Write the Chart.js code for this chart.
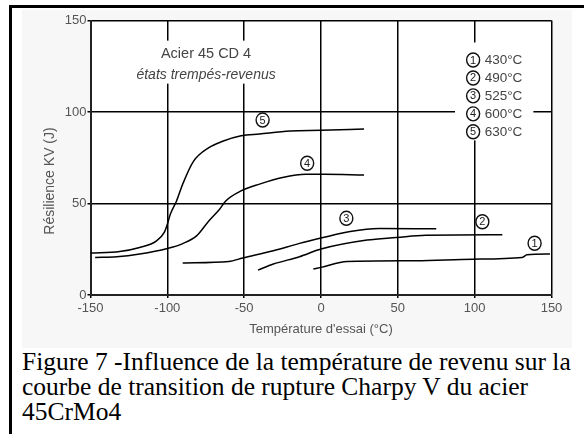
<!DOCTYPE html>
<html lang="fr">
<head>
    <meta charset="UTF-8">
    <title>Acier 45 CD 4 - Charpy V</title>
    <style>
        body {
            margin: 0;
            width: 584px;
            height: 434px;
            background-color: #fff;
            position: relative;
            overflow: hidden;
        }
        .frame {
            position: absolute;
            left: 9px;
            top: 5px;
            width: 580px;
            height: 440px;
            border-top: 3px solid #000;
            border-left: 3px solid #000;
        }
        .panel {
            position: absolute;
            left: 22px;
            top: 10px;
            width: 550px;
            height: 338px;
            background-color: #f7f7f7;
        }
        .chart-box {
            position: absolute;
            left: 0;
            top: 0;
            width: 584px;
            height: 345px;
        }
        .caption {
            position: absolute;
            left: 22px;
            top: 349px;
            font-family: "Liberation Serif", "Times New Roman", serif;
            font-size: 25.5px;
            line-height: 25px;
            color: #000;
            white-space: nowrap;
        }
    </style>
    <script src="https://cdn.jsdelivr.net/npm/chart.js"></script>
</head>
<body>
    <div class="frame"></div>
    <div class="panel"></div>
    <div class="chart-box">
        <canvas id="charpyChart" width="584" height="345"></canvas>
    </div>
    <div class="caption">Figure 7 -Influence de la température de revenu sur la<br>courbe de transition de rupture Charpy V du acier<br>45CrMo4</div>

    <script>
        // tick values
        const xTicks = [-150, -100, -50, 0, 50, 100, 150];
        const yTicks = [0, 50, 100, 150];

        // tempering temperatures (legend)
        const labels = ['430°C', '490°C', '525°C', '600°C', '630°C'];

        // curves: test temperature (°C) / KV (J)
        const c1x = [-5, 0, 17, 62, 99, 131, 134, 149];
        const c1y = [14.2, 15.1, 18.3, 18.7, 19.6, 20.5, 22, 22.4];
        const c2x = [-41, -31, -14, 0, 30, 49, 68, 118];
        const c2y = [13.6, 16.9, 20.9, 25.1, 30, 31.4, 32.7, 32.9];
        const c3x = [-90, -60, -51, -31, -14, 0, 19, 38, 75];
        const c3y = [17.5, 18.3, 20.2, 24.2, 28.2, 31.1, 34.7, 36.3, 36.2];
        const c4x = [-147, -133, -118, -100, -90, -81, -73, -66, -62, -52, -40, -25, -10, 2, 28];
        const c4y = [20.5, 20.9, 22.4, 25.4, 28.1, 32.3, 40.5, 46.9, 51.4, 56.9, 60.6, 64.2, 66, 66, 65.6];
        const c5x = [-150, -131, -118, -107, -102, -100, -98, -94, -90, -83, -73, -64, -52, -40, -20, 0, 28];
        const c5y = [22.9, 23.8, 26, 29.6, 34.2, 38.7, 44.2, 51.4, 60.6, 73, 80.5, 84, 87, 88, 89.6, 90, 90.7];

        // where the circled curve numbers sit (data units)
        const tagX = [139, 105, 16.5, -9, -38];
        const tagY = [28.3, 40, 41.9, 72, 95.6];

        const curvesX = [c1x, c2x, c3x, c4x, c5x];
        const curvesY = [c1y, c2y, c3y, c4y, c5y];

        function toPoints(xs, ys) {
            return xs.map((x, i) => ({ x: x, y: ys[i] }));
        }

        function circledNumber(ctx, cx, cy, n) {
            ctx.save();
            ctx.fillStyle = '#fff';
            ctx.strokeStyle = '#111';
            ctx.lineWidth = 1.4;
            ctx.beginPath();
            ctx.ellipse(cx, cy, 6.5, 7, 0, 0, Math.PI * 2);
            ctx.fill();
            ctx.stroke();
            ctx.fillStyle = '#222';
            ctx.font = '11px "Liberation Sans", Arial, sans-serif';
            ctx.textAlign = 'center';
            ctx.textBaseline = 'middle';
            ctx.fillText(String(n), cx, cy + 0.5);
            ctx.restore();
        }

        const decorPlugin = {
            id: 'decor',
            beforeDraw(chart) {
                const { ctx, chartArea } = chart;
                ctx.save();
                ctx.fillStyle = '#fff';
                ctx.fillRect(chartArea.left, chartArea.top,
                    chartArea.right - chartArea.left, chartArea.bottom - chartArea.top);
                ctx.restore();
            },
            beforeDatasetsDraw(chart) {
                const { ctx } = chart;
                const xs = chart.scales.x;
                const ys = chart.scales.y;
                ctx.save();
                ctx.fillStyle = '#fff';
                // heading box
                let l = xs.getPixelForValue(-142.7), r = xs.getPixelForValue(-9.3);
                let t = ys.getPixelForValue(139), b = ys.getPixelForValue(115.5);
                ctx.fillRect(l, t, r - l, b - t);
                // legend box
                l = xs.getPixelForValue(87.2); r = xs.getPixelForValue(138.2);
                t = ys.getPixelForValue(138); b = ys.getPixelForValue(84.5);
                ctx.fillRect(l, t, r - l, b - t);

                ctx.fillStyle = '#444';
                ctx.textAlign = 'center';
                ctx.textBaseline = 'middle';
                ctx.font = '14.5px "Liberation Sans", Arial, sans-serif';
                ctx.fillText('Acier 45 CD 4', xs.getPixelForValue(-74.8), ys.getPixelForValue(131.7));
                ctx.font = 'italic 14px "Liberation Sans", Arial, sans-serif';
                ctx.fillText('états trempés-revenus', xs.getPixelForValue(-74.8), ys.getPixelForValue(120.2));
                ctx.restore();
            },
            afterDraw(chart) {
                const { ctx } = chart;
                const xs = chart.scales.x;
                const ys = chart.scales.y;
                // numbers on the curves
                tagX.forEach((x, i) => {
                    circledNumber(ctx, xs.getPixelForValue(x), ys.getPixelForValue(tagY[i]), i + 1);
                });
                // legend entries
                labels.forEach((lab, i) => {
                    const py = ys.getPixelForValue(128.4 - i * 9.8);
                    circledNumber(ctx, xs.getPixelForValue(99), py, i + 1);
                    ctx.save();
                    ctx.fillStyle = '#444';
                    ctx.font = '13.5px "Liberation Sans", Arial, sans-serif';
                    ctx.textAlign = 'left';
                    ctx.textBaseline = 'middle';
                    ctx.fillText(lab, xs.getPixelForValue(106.5), py + 0.5);
                    ctx.restore();
                });
                // y axis title
                ctx.save();
                ctx.translate(50, 181);
                ctx.rotate(-Math.PI / 2);
                ctx.fillStyle = '#555';
                ctx.font = '14px "Liberation Sans", Arial, sans-serif';
                ctx.textAlign = 'center';
                ctx.textBaseline = 'middle';
                ctx.fillText('Résilience KV (J)', 0, 0);
                ctx.restore();
            }
        };

        const ctx = document.getElementById('charpyChart').getContext('2d');
        new Chart(ctx, {
            type: 'scatter',
            data: {
                datasets: labels.map((lab, i) => ({
                    label: lab,
                    data: toPoints(curvesX[i], curvesY[i]),
                    showLine: true,
                    borderColor: '#000',
                    borderWidth: 1.5,
                    pointRadius: 0,
                    cubicInterpolationMode: 'monotone',
                    fill: false
                }))
            },
            options: {
                responsive: false,
                animation: false,
                events: [],
                layout: { padding: { top: 20.5, right: 32.5, left: 0, bottom: 0 } },
                plugins: {
                    legend: { display: false },
                    tooltip: { enabled: false }
                },
                scales: {
                    x: {
                        type: 'linear',
                        min: -150,
                        max: 150,
                        afterBuildTicks(scale) {
                            scale.ticks = xTicks.map(v => ({ value: v }));
                        },
                        afterFit(scale) { scale.height = 50; },
                        grid: {
                            color: '#000',
                            lineWidth: 1.5,
                            drawTicks: true,
                            tickLength: 3,
                            tickColor: '#000'
                        },
                        border: { color: '#222', width: 2 },
                        ticks: {
                            color: '#555',
                            padding: 3,
                            maxRotation: 0,
                            font: { family: '"Liberation Sans", Arial, sans-serif', size: 13 }
                        },
                        title: {
                            display: true,
                            text: "Température d'essai (°C)",
                            color: '#555',
                            padding: { top: 0, bottom: 7.5 },
                            font: { family: '"Liberation Sans", Arial, sans-serif', size: 13 }
                        }
                    },
                    y: {
                        type: 'linear',
                        min: 0,
                        max: 150,
                        afterBuildTicks(scale) {
                            scale.ticks = yTicks.map(v => ({ value: v }));
                        },
                        afterFit(scale) { scale.width = 90.5; },
                        grid: {
                            color: '#000',
                            lineWidth: 1.5,
                            drawTicks: true,
                            tickLength: 3,
                            tickColor: '#000'
                        },
                        border: { color: '#222', width: 2 },
                        ticks: {
                            color: '#555',
                            padding: 1,
                            font: { family: '"Liberation Sans", Arial, sans-serif', size: 13 }
                        }
                    }
                }
            },
            plugins: [decorPlugin]
        });
    </script>
</body>
</html>
